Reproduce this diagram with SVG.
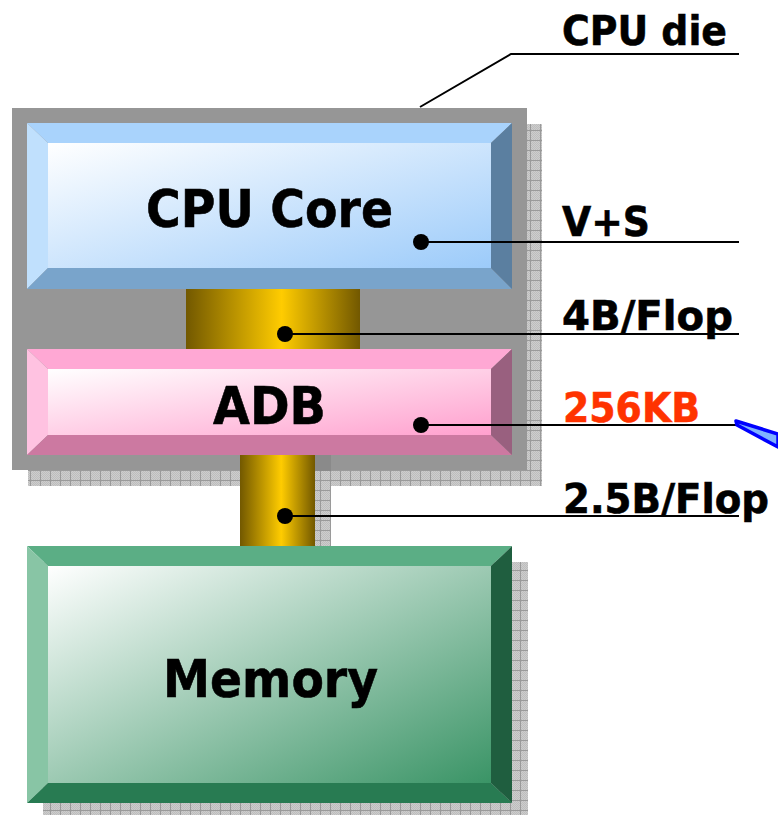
<svg xmlns="http://www.w3.org/2000/svg" width="778" height="815" viewBox="0 0 778 815">
  <style>
    .lbl { font-family: "DejaVu Sans", Verdana, sans-serif; font-weight: bold; fill: #000; stroke: #000; stroke-width: 0.6; }
    .big { font-size: 52px; }
    .side { font-size: 41px; }
    .red { fill: #FF3300; stroke: #FF3300; }
    .lead { stroke: #000; stroke-width: 2; fill: none; }
    .dot { fill: #000; }
    .shadow { fill: url(#shadowGrid); }
  </style>
  <defs>
    <pattern id="dither" width="2" height="2" patternUnits="userSpaceOnUse">
      <rect width="2" height="2" fill="#CDCDCD"/>
      <rect width="1" height="1" fill="#BDBDBD"/>
      <rect x="1" y="1" width="1" height="1" fill="#BDBDBD"/>
    </pattern>
    <pattern id="shadowGrid" width="10" height="10" patternUnits="userSpaceOnUse">
      <rect width="10" height="10" fill="url(#dither)"/>
      <path d="M0 0.5H10M0.5 0V10" stroke="#9A9A9A" stroke-width="1"/>
    </pattern>
    <linearGradient id="busGrad" x1="0" y1="0" x2="1" y2="0">
      <stop offset="0" stop-color="#725800"/>
      <stop offset="0.55" stop-color="#FFCC00"/>
      <stop offset="1" stop-color="#725800"/>
    </linearGradient>
    <linearGradient id="coreFace" x1="0" y1="0" x2="1" y2="1">
      <stop offset="0" stop-color="#FFFFFF"/>
      <stop offset="1" stop-color="#9CCBFA"/>
    </linearGradient>
    <linearGradient id="adbFace" x1="0" y1="0" x2="1" y2="1">
      <stop offset="0" stop-color="#FFFFFF"/>
      <stop offset="1" stop-color="#FFA0CE"/>
    </linearGradient>
    <linearGradient id="memFace" x1="0" y1="0" x2="1" y2="1">
      <stop offset="0" stop-color="#FFFFFF"/>
      <stop offset="1" stop-color="#3A9466"/>
    </linearGradient>
  </defs>

  <rect width="778" height="815" fill="#FFFFFF"/>

  <!-- drop shadows -->
  <g id="shadows">
    <rect class="shadow" x="28" y="124" width="514" height="362"/>
    <rect class="shadow" x="43" y="562" width="485" height="253"/>
  </g>

  <!-- die outline -->
  <g id="cpu-die">
    <rect x="12" y="108" width="515" height="362" fill="#969696"/>
  </g>

  <!-- shadow of the lower bus, laid over the die edge -->
  <g id="bus-shadow">
    <rect class="shadow" x="255" y="471" width="76" height="91"/>
    <rect x="315" y="455" width="16" height="16" fill="#8A8A8A"/>
  </g>

  <!-- buses -->
  <g id="bus-core-adb">
    <rect x="186" y="289" width="174" height="61" fill="url(#busGrad)"/>
  </g>
  <g id="bus-adb-mem">
    <rect x="240" y="455" width="75" height="92" fill="url(#busGrad)"/>
  </g>

  <!-- CPU core -->
  <g id="cpu-core">
    <polygon points="27,123 512,123 491,143 48,143" fill="#A9D3FC"/>
    <polygon points="27,123 48,143 48,268 27,289" fill="#C0E0FD"/>
    <polygon points="27,289 48,268 491,268 512,289" fill="#79A4CB"/>
    <polygon points="512,123 512,289 491,268 491,143" fill="#5B7FA0"/>
    <rect x="48" y="143" width="443" height="125" fill="url(#coreFace)"/>
    <text class="lbl big" x="146" y="227" textLength="247" lengthAdjust="spacingAndGlyphs">CPU Core</text>
  </g>

  <!-- ADB -->
  <g id="adb">
    <polygon points="27,349 512,349 491,369 48,369" fill="#FFA8D4"/>
    <polygon points="27,349 48,369 48,435 27,455" fill="#FFC2E1"/>
    <polygon points="27,455 48,435 491,435 512,455" fill="#CC79A1"/>
    <polygon points="512,349 512,455 491,435 491,369" fill="#99607F"/>
    <rect x="48" y="369" width="443" height="66" fill="url(#adbFace)"/>
    <text class="lbl big" x="213" y="424" textLength="113" lengthAdjust="spacingAndGlyphs">ADB</text>
  </g>

  <!-- Memory -->
  <g id="memory">
    <polygon points="27,546 512,546 491,566 48,566" fill="#5BAE85"/>
    <polygon points="27,546 48,566 48,783 27,803" fill="#88C5A5"/>
    <polygon points="27,803 48,783 491,783 512,803" fill="#287B52"/>
    <polygon points="512,546 512,803 491,783 491,566" fill="#1F5E3F"/>
    <rect x="48" y="566" width="443" height="217" fill="url(#memFace)"/>
    <text class="lbl big" x="163" y="697" textLength="215" lengthAdjust="spacingAndGlyphs">Memory</text>
  </g>

  <!-- leader lines -->
  <g id="connectors">
    <polyline class="lead" points="420,107 511,54 739,54"/>
    <line class="lead" x1="421" y1="242" x2="739" y2="242"/>
    <circle class="dot" cx="421" cy="242" r="8"/>
    <line class="lead" x1="285" y1="334" x2="739" y2="334"/>
    <circle class="dot" cx="285" cy="334" r="8"/>
    <line class="lead" x1="421" y1="425" x2="737" y2="425"/>
    <circle class="dot" cx="421" cy="425" r="8"/>
    <line class="lead" x1="285" y1="516" x2="739" y2="516"/>
    <circle class="dot" cx="285" cy="516" r="8"/>
    <polygon points="736,421 778,434 778,447 737,425" fill="#7FB2FF" stroke="#0000FF" stroke-width="3.5" stroke-linejoin="round"/>
  </g>

  <!-- side annotations -->
  <g id="annotations">
    <text class="lbl side" x="562" y="45" textLength="165" lengthAdjust="spacingAndGlyphs">CPU die</text>
    <text class="lbl side" x="562" y="236" textLength="88" lengthAdjust="spacingAndGlyphs">V+S</text>
    <text class="lbl side" x="562" y="330" textLength="171" lengthAdjust="spacingAndGlyphs">4B/Flop</text>
    <text class="lbl side red" x="563" y="422" textLength="137" lengthAdjust="spacingAndGlyphs">256KB</text>
    <text class="lbl side" x="563" y="513" style="font-size:40px" textLength="206" lengthAdjust="spacingAndGlyphs">2.5B/Flop</text>
  </g>
</svg>
